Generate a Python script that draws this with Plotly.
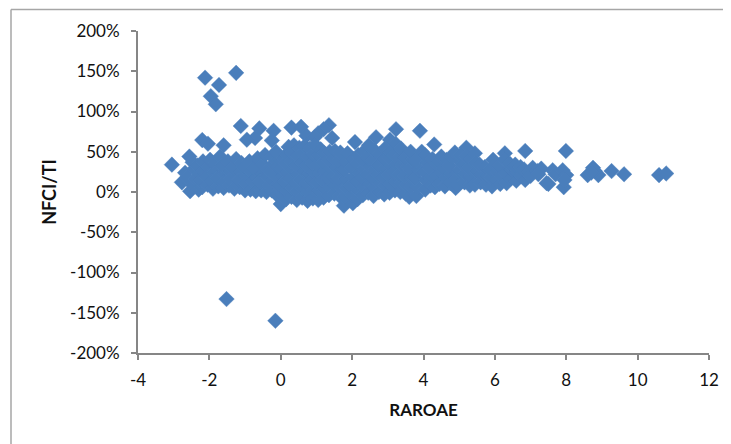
import plotly.graph_objects as go

# Values (estimates); NFCI/TI in percent
outlier_x = [-3.05,-2.12,-1.25,-1.73,-1.96,-1.82,-1.12,-0.6,-0.72,-0.95,-0.2,-0.25,-2.2,-2.04,-1.6,-1.52,-0.15,
             0.3,0.57,0.72,1.35,1.2,1.05,0.95,1.44,2.67,3.06,3.23,3.9,4.3,5.2,7.99]
outlier_y = [34,142,148,133,119,109,82,79,67,65,76,64,64.5,60,58,-133,-160,
             80,81,70,83,78,73,68,67,68,65,78,76,59,55,51]

left_x = [-2.77,-2.68,-2.54,-2.56,-2.62,-2.45,-2.42,-2.47,-2.38,-2.3,-2.28,-2.33,-2.2,-2.16,-2.24,-2.18,
          -2.05,-2.02,-2.08,-1.98,-1.9,-1.86,-1.93,-1.84,-1.75,-1.72,-1.78,-1.7,-1.6,-1.56,-1.63,-1.58,
          -1.45,-1.42,-1.48,-1.4,-1.3,-1.27,-1.34,-1.25,-1.15,-1.12,-1.18,-1.1,-1.0,-0.96,-1.03,-0.98,
          -0.85,-0.82,-0.88,-0.8,-0.7,-0.67,-0.74,-0.65,-0.55,-0.52,-0.58,-0.5,-0.4,-0.37,-0.44,-0.35,-0.33]
left_y = [12,24,1,44,18,8,29,37,16,3,22,33,6,26,14,38,
          9,31,19,40,4,24,13,35,7,28,17,44,5,22,33,12,
          8,26,38,16,4,21,30,41,6,24,14,36,2,20,31,11,
          3,25,38,14,1,18,30,42,2,22,13,34,0,19,46,28,8]

core_x = [-0.25,-0.22,-0.28,-0.2,-0.24,-0.12,-0.08,-0.15,-0.1,-0.05,-0.13,0.0,0.04,-0.03,0.06,0.02,0.09,
          0.15,0.18,0.12,0.2,0.14,0.17,0.22,0.3,0.33,0.27,0.35,0.29,0.32,0.37,0.45,0.48,0.42,0.5,0.44,0.47,0.52,
          0.6,0.63,0.57,0.65,0.59,0.62,0.67,0.75,0.78,0.72,0.8,0.74,0.77,0.82,0.9,0.93,0.87,0.95,0.89,0.92,0.97,
          1.05,1.08,1.02,1.1,1.04,1.07,1.12,1.2,1.23,1.17,1.25,1.19,1.22,1.35,1.38,1.32,1.4,1.34,1.37,
          1.5,1.53,1.47,1.55,1.49,1.52,1.65,1.68,1.62,1.7,1.64,1.67,1.77,1.8,1.85,1.83,1.78,1.82,1.87,
          2.02,2.0,1.97,2.05,1.99,2.03,2.08,2.15,2.18,2.12,2.2,2.14,2.17,2.3,2.33,2.27,2.35,2.29,2.32,
          2.45,2.48,2.42,2.5,2.44,2.47,2.6,2.63,2.57,2.65,2.59,2.62,2.75,2.78,2.72,2.83,2.74,2.77,
          2.9,2.93,2.87,2.95,2.89,2.92,3.05,3.08,3.02,3.1,3.04,3.07,3.2,3.23,3.17,3.25,3.19,3.22,
          3.35,3.38,3.32,3.4,3.34,3.37,3.5,3.53,3.47,3.55,3.49,3.6,3.65,3.68,3.62,3.7,3.64,3.8,3.83,3.77,3.87,3.79,3.95]
core_y = [2,14,25,35,44,-3,9,20,31,41,50,-15,-4,8,19,30,42,
          -9,2,13,24,36,47,56,-6,5,16,27,38,49,58,-10,1,12,23,34,45,55,
          -7,4,15,26,37,48,57,-11,0,11,22,33,44,54,-8,3,14,25,36,47,58,
          -10,1,12,23,34,45,53,-7,4,15,26,37,48,-4,7,18,29,40,50,
          -2,9,20,31,42,51,-5,6,17,28,39,49,-17,-6,5,16,27,38,48,
          -14,-3,8,19,30,41,62,-9,2,13,24,35,46,-4,7,18,29,40,50,
          -1,10,21,32,43,58,-5,6,17,28,39,52,0,11,22,2,33,47,
          -3,8,19,30,41,54,-1,10,21,32,43,50,2,13,24,35,46,60,
          0,11,22,33,44,54,-2,9,20,31,42,-6,7,18,29,40,50,-5,6,17,28,39,50]

right_x = [4.05,4.08,4.02,4.1,4.04,4.2,4.23,4.17,4.25,4.32,4.35,4.38,4.45,4.48,4.42,4.5,4.6,4.63,4.57,4.65,
           4.75,4.78,4.72,4.8,4.88,4.9,4.93,5.0,5.03,4.97,5.05,5.15,5.18,5.12,5.2,5.3,5.33,5.27,5.35,5.44,5.44,5.5,5.47,
           5.6,5.63,5.57,5.75,5.78,5.72,5.92,5.9,5.88,5.95,6.05,6.08,6.02,6.15,6.18,6.12,6.28,6.33,6.3,6.27,
           6.45,6.48,6.42,6.6,6.63,6.57,6.75,6.72,6.85,6.85,6.82,6.95,7.06,7.0,7.2,7.3,7.22,7.45,7.5,7.62,7.7,7.9,7.93,8.0,7.95,
           8.6,8.75,8.9,8.8,8.7,9.27,9.62,10.6,10.8]
right_y = [3,14,25,36,46,8,19,30,41,6,20,34,10,24,38,44,7,18,29,40,
           11,22,33,44,49,5,16,27,38,9,46,12,23,34,44,8,19,30,41,9,48,26,36,
           12,23,34,9,20,31,7,18,28,40,14,25,34,10,21,32,48,11,24,40,
           17,28,35,14,25,34,20,31,51,15,28,24,30,20,26,29,22,11,10,27,22,27,6,21,15,
           21,30,21,26,24,26,22,21,23]

raroae = outlier_x + left_x + core_x + right_x
nfci_ti = outlier_y + left_y + core_y + right_y

x_ticks = [-4,-2,0,2,4,6,8,10,12]
x_labels = ["-4","-2","0","2","4","6","8","10","12"]
y_ticks = [200,150,100,50,0,-50,-100,-150,-200]
y_labels = ["200%","150%","100%","50%","0%","-50%","-100%","-150%","-200%"]

FONT = "Lato, Carlito, 'Open Sans', sans-serif"
AXIS = "#868686"
# page body has an 8px margin, so the figure is 8px smaller and all pixel positions are shifted by 8
OFF = 8
W, H = 731 - OFF, 444 - OFF
L, R, T, B = 138 - OFF, 709 - OFF, 31 - OFF, 353 - OFF

fig = go.Figure(go.Scatter(
    x=raroae, y=nfci_ti, mode="markers", cliponaxis=False,
    marker=dict(symbol="diamond", size=12, color="#4A7EBB", line=dict(width=0.4, color="#4F81BD")),
))

def px_x(p): return (p - OFF - L) / (R - L)
def px_y(p): return (B - (p - OFF)) / (B - T)

fig.update_layout(
    width=W, height=H, autosize=False,
    margin=dict(l=L, r=W - R, t=T, b=H - B, pad=0),
    paper_bgcolor="white", plot_bgcolor="white", showlegend=False,
    font=dict(family=FONT, color="#111111", size=17),
    xaxis=dict(range=[-4, 12], tickmode="array", tickvals=x_ticks, ticktext=x_labels,
               ticks="outside", ticklen=5, tickwidth=1.5, tickcolor=AXIS,
               showline=True, linecolor=AXIS, linewidth=2, showgrid=False, zeroline=False,
               ticklabelstandoff=6,
               title=dict(text="<b>RAROAE</b>", font=dict(size=17, family=FONT), standoff=15),
               tickfont=dict(size=17, family=FONT)),
    yaxis=dict(range=[-200, 200], tickmode="array", tickvals=y_ticks, ticktext=y_labels,
               ticks="outside", ticklen=5, tickwidth=1.5, tickcolor=AXIS,
               showline=True, linecolor=AXIS, linewidth=2, showgrid=False, zeroline=False,
               ticklabelstandoff=8,
               title=dict(text="<b>NFCI/TI</b>", font=dict(size=18, family=FONT), standoff=9),
               tickfont=dict(size=17, family=FONT)),
    shapes=[
        dict(type="line", xref="paper", yref="paper", x0=px_x(11), x1=px_x(731), y0=px_y(9.5), y1=px_y(9.5),
             line=dict(color="#A6A6A6", width=1.5)),
        dict(type="line", xref="paper", yref="paper", x0=px_x(11), x1=px_x(11), y0=px_y(9.5), y1=px_y(444),
             line=dict(color="#A6A6A6", width=1.5)),
    ],
)
fig.write_html("out.html", config=dict(displayModeBar=False))
